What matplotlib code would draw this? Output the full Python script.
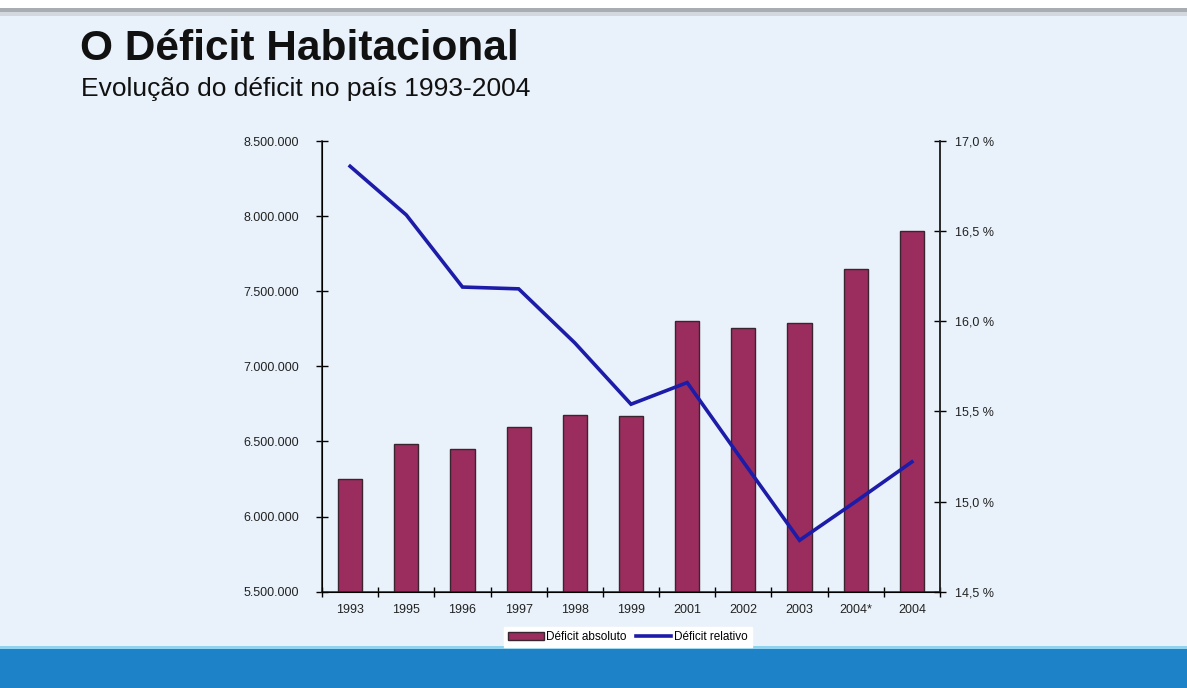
import matplotlib
matplotlib.use("Agg")
import matplotlib.pyplot as plt
from matplotlib.patches import Rectangle
from matplotlib.ticker import FuncFormatter, FixedLocator

plt.rcParams['font.family'] = ['Liberation Sans', 'DejaVu Sans']

# dados
anos = ["1993", "1995", "1996", "1997", "1998", "1999", "2001", "2002", "2003", "2004*", "2004"]
deficit_absoluto = [6249000, 6483000, 6451000, 6593000, 6673000, 6669000,
                    7305000, 7258000, 7289000, 7651000, 7898000]
deficit_relativo = [16.86, 16.59, 16.19, 16.18, 15.88, 15.54,
                    15.66, 15.22, 14.785, 15.00, 15.22]

fundo = "#E9F2FA"
cor_barra = "#9B2C5E"
cor_linha = "#1C1CA8"

fig = plt.figure(figsize=(11.87, 6.88), dpi=100, facecolor=fundo)

# sombra no topo e faixa azul embaixo
fig.patches.append(Rectangle((0, 0.988), 1, 0.012, transform=fig.transFigure,
                             facecolor="white", edgecolor="none", zorder=0))
fig.patches.append(Rectangle((0, 0.982), 1, 0.007, transform=fig.transFigure,
                             facecolor="#A8ADB3", edgecolor="none", zorder=0))
fig.patches.append(Rectangle((0, 0.977), 1, 0.006, transform=fig.transFigure,
                             facecolor="#D2D8DE", edgecolor="none", zorder=0))
fig.patches.append(Rectangle((0, 0), 1, 0.058, transform=fig.transFigure,
                             facecolor="#1E82C8", edgecolor="none", zorder=0))
fig.patches.append(Rectangle((0, 0.057), 1, 0.004, transform=fig.transFigure,
                             facecolor="#8FD3F0", edgecolor="none", zorder=0))

fig.text(0.067, 0.929, "O Déficit Habitacional", fontsize=30.5, fontweight="bold",
         color="#111111", va="center")
fig.text(0.068, 0.871, "Evolução do déficit no país 1993-2004", fontsize=19,
         color="#111111", va="center")

ax = fig.add_axes([0.2713, 0.140, 0.5206, 0.655])
ax.set_facecolor("none")
x = range(len(anos))
barras = ax.bar(x, deficit_absoluto, width=0.43, color=cor_barra,
                edgecolor="#3A2430", linewidth=1.0, label="Déficit absoluto")
ax.set_xlim(-0.5, len(anos) - 0.5)
ax.set_ylim(5500000, 8500000)
ax.set_yticks(range(5500000, 8500001, 500000))
ax.yaxis.set_major_formatter(FuncFormatter(lambda v, p: f"{int(v):,}".replace(",", ".")))
ax.set_xticks(list(x))
ax.set_xticklabels(anos)
ax.xaxis.set_minor_locator(FixedLocator([i + 0.5 for i in range(-1, len(anos))]))
ax.tick_params(axis="x", which="major", length=0, pad=9, labelsize=9, labelcolor="#222222")
ax.tick_params(axis="x", which="minor", direction="inout", length=7, width=1)
ax.tick_params(axis="y", direction="inout", length=9, width=1, labelsize=9,
               labelcolor="#222222", pad=12)
ax.spines["top"].set_visible(False)
for s in ["left", "bottom", "right"]:
    ax.spines[s].set_linewidth(1.1)
    ax.spines[s].set_color("#222222")

ax2 = ax.twinx()
linha, = ax2.plot(list(x), deficit_relativo, color=cor_linha, linewidth=2.6,
                  label="Déficit relativo", solid_joinstyle="miter")
ax2.set_ylim(14.5, 17.0)
ax2.set_yticks([14.5, 15.0, 15.5, 16.0, 16.5, 17.0])
ax2.yaxis.set_major_formatter(FuncFormatter(lambda v, p: f"{v:.1f} %".replace(".", ",")))
ax2.tick_params(axis="y", direction="inout", length=9, width=1, labelsize=9,
                labelcolor="#222222", pad=6)
ax2.spines["top"].set_visible(False)
ax2.spines["right"].set_linewidth(1.1)
ax2.spines["right"].set_color("#222222")

leg = fig.legend([barras, linha], ["Déficit absoluto", "Déficit relativo"],
                 loc="center", bbox_to_anchor=(0.529, 0.074), ncol=2, fontsize=8.5,
                 frameon=True, fancybox=False, edgecolor="white", facecolor="white",
                 framealpha=1, handlelength=3.0, handletextpad=0.2, columnspacing=0.8,
                 borderpad=0.35)

fig.savefig("out.png", dpi=100, facecolor=fundo)
